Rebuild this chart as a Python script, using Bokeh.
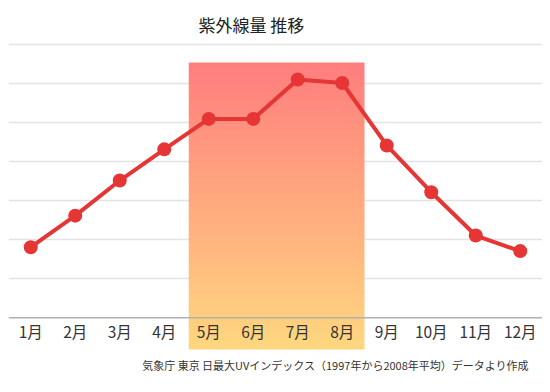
import numpy as np
from bokeh.plotting import figure
from bokeh.models import FixedTicker, Span, ColumnDataSource, Label
from bokeh.core.properties import value
from bokeh.embed import file_html
from bokeh.resources import INLINE

# data
months = list(range(1, 13))
month_labels = ["1月", "2月", "3月", "4月", "5月", "6月", "7月", "8月", "9月", "10月", "11月", "12月"]
uv_values = [1.81, 2.62, 3.52, 4.32, 5.10, 5.10, 6.11, 6.02, 4.42, 3.22, 2.11, 1.71]
title_text = "紫外線量 推移"
source_text = "気象庁 東京 日最大UVインデックス（1997年から2008年平均）データより作成"
highlight_months = (5, 8)

FONT = "Noto Sans CJK JP"

p = figure(width=542, height=384, output_backend="svg", toolbar_location=None,
           x_range=(0.5, 12.5), y_range=(-1.71, 7.931),
           min_border_left=8, min_border_right=0, min_border_top=8, min_border_bottom=0)
p.outline_line_color = None
p.xaxis.visible = False
p.yaxis.visible = False
p.xgrid.visible = False
p.ygrid.ticker = FixedTicker(ticks=[1, 2, 3, 4, 5, 6, 7])
p.ygrid.grid_line_color = "#000000"
p.ygrid.grid_line_alpha = 0.11
p.ygrid.grid_line_width = 1.5

# gradient highlight (single RGBA image)
left = highlight_months[0] - 0.45
right = highlight_months[1] + 0.5
top, bottom = 6.546, -0.813
n = 200
c_top = np.array([255, 126, 126])
c_bot = np.array([255, 216, 128])
t = np.linspace(0, 1, n)[:, None]  # row 0 = bottom
rgb = (c_bot * (1 - t) + c_top * t).astype(np.uint32)
img = np.zeros((n, 1), dtype=np.uint32)
view = img.view(dtype=np.uint8).reshape((n, 1, 4))
view[:, 0, 0] = rgb[:, 0]
view[:, 0, 1] = rgb[:, 1]
view[:, 0, 2] = rgb[:, 2]
view[:, 0, 3] = 255
p.image_rgba(image=[img], x=left, y=bottom, dw=right - left, dh=top - bottom)

# baseline
p.add_layout(Span(location=0, dimension="width", line_color="#b0b0b0", line_width=1.5))

# line + points
src = ColumnDataSource(dict(x=months, y=uv_values, label=month_labels))
p.line("x", "y", source=src, line_color="#e63535", line_width=4)
p.scatter("x", "y", source=src, size=14, fill_color="#e63535", line_color=None)

# month labels
p.text("x", y=-0.33, text="label", source=src, text_align="center", text_baseline="middle",
       text_font=value(FONT), text_font_size="15.5px", text_color="#333333")

# title
p.add_layout(Label(x=5.96, y=7.52, text=title_text, text_align="center", text_baseline="middle",
                   text_font=FONT, text_font_size="17px", text_color="#222222"))
# source note
p.add_layout(Label(x=12.2, y=-1.22, text=source_text, text_align="right", text_baseline="middle",
                   text_font=FONT, text_font_size="11px", text_color="#333333"))

open("out.html", "w").write(file_html(p, INLINE))
